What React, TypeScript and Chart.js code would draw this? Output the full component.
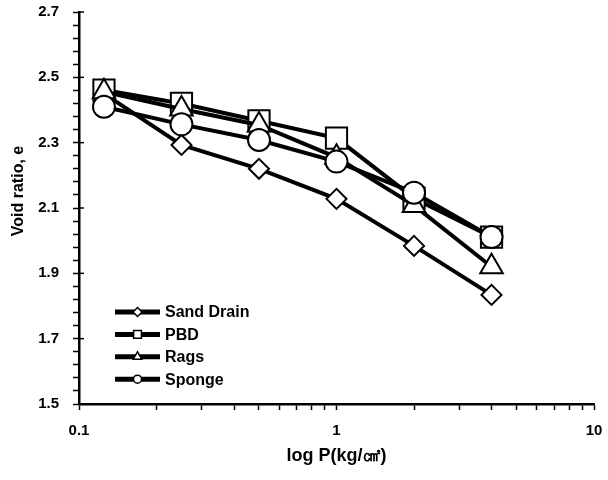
import React, { useEffect, useRef } from 'react';
import { Chart, registerables } from 'chart.js';
import { drawPoint } from 'chart.js/helpers';

Chart.register(...registerables);

// ---- data ----
const pressures = [0.125, 0.25, 0.5, 1, 2, 4];
const sandDrain = [2.45, 2.293, 2.22, 2.128, 1.984, 1.834];
const pbd = [2.461, 2.42, 2.367, 2.314, 2.13, 2.011];
const rags = [2.456, 2.403, 2.354, 2.255, 2.108, 1.92];
const sponge = [2.41, 2.356, 2.308, 2.242, 2.147, 2.011];
const seriesNames = ['Sand Drain', 'PBD', 'Rags', 'Sponge'];
const xLabelTicks = [0.1, 1, 10];
const yLabelTicks = [1.5, 1.7, 1.9, 2.1, 2.3, 2.5, 2.7];
const yMinorStep = 0.04;
const yTitleText = 'Void ratio, e';
const xTitleText = 'log P(kg/㎠)';

const FONT = '"Liberation Sans", Arial, Helvetica, sans-serif';

const legendRadius: Record<string, number> = { rectRot: 4.5, rect: 5.5, triangle: 5, circle: 4 };

const isYLabel = (n: number) => yLabelTicks.some((t) => Math.abs(t - n) < 1e-6);

const innerLegend = {
  id: 'innerLegend',
  afterDraw(chart: any) {
    const ctx = chart.ctx;
    const area = chart.chartArea;
    const x0 = area.left + 36;
    const x1 = area.left + 81;
    const rowY0 = area.bottom - 92;
    const gap = 22.4;
    chart.data.datasets.forEach((ds: any, i: number) => {
      const y = rowY0 + i * gap;
      ctx.save();
      ctx.strokeStyle = '#000';
      ctx.lineWidth = 5;
      ctx.beginPath();
      ctx.moveTo(x0, y);
      ctx.lineTo(x1, y);
      ctx.stroke();
      ctx.fillStyle = '#fff';
      ctx.strokeStyle = '#000';
      ctx.lineWidth = 1.5;
      drawPoint(ctx, { pointStyle: ds.pointStyle, radius: legendRadius[ds.pointStyle], rotation: 0, borderWidth: 1.5 }, (x0 + x1) / 2, y);
      ctx.fillStyle = '#000';
      ctx.font = 'bold 16px ' + FONT;
      ctx.textAlign = 'left';
      ctx.textBaseline = 'middle';
      ctx.fillText(ds.label, x1 + 5, y + 1);
      ctx.restore();
    });
  },
};

const yTitlePlugin = {
  id: 'yTitlePlugin',
  afterDraw(chart: any) {
    const ctx = chart.ctx;
    ctx.save();
    ctx.translate(19, 191);
    ctx.rotate(-Math.PI / 2);
    ctx.fillStyle = '#000';
    ctx.font = 'bold 16px ' + FONT;
    ctx.textAlign = 'center';
    ctx.textBaseline = 'middle';
    ctx.fillText(yTitleText, 0, 0);
    ctx.restore();
  },
};

const majorInnerTicks = {
  id: 'majorInnerTicks',
  afterDraw(chart: any) {
    const ctx = chart.ctx;
    const ys = chart.scales.y;
    const area = chart.chartArea;
    ctx.save();
    ctx.strokeStyle = '#000';
    ctx.lineWidth = 1.5;
    ys.ticks.forEach((t: any) => {
      if (isYLabel(t.value)) {
        const py = ys.getPixelForValue(t.value);
        ctx.beginPath();
        ctx.moveTo(area.left, py);
        ctx.lineTo(area.left + 5, py);
        ctx.stroke();
      }
    });
    ctx.restore();
  },
};

export default function App() {
  const ref = useRef<HTMLCanvasElement | null>(null);

  useEffect(() => {
    if (!ref.current) return;
    const mk = (label: string, vals: number[], style: string, radius: number, order: number) => ({
      label,
      data: pressures.map((p, i) => ({ x: p, y: vals[i] })),
      borderColor: '#000',
      backgroundColor: '#fff',
      borderWidth: 4,
      pointStyle: style,
      pointRadius: radius,
      pointBorderWidth: 2,
      pointBorderColor: '#000',
      pointBackgroundColor: '#fff',
      tension: 0,
      order,
    });
    const chart = new Chart(ref.current, {
      type: 'line',
      data: {
        datasets: [
          mk(seriesNames[0], sandDrain, 'rectRot', 10, 4),
          mk(seriesNames[1], pbd, 'rect', 15, 3),
          mk(seriesNames[2], rags, 'triangle', 13, 2),
          mk(seriesNames[3], sponge, 'circle', 11, 1),
        ] as any,
      },
      options: {
        animation: false,
        responsive: false,
        devicePixelRatio: 1,
        layout: { autoPadding: false, padding: { top: 12, right: 14, left: 0, bottom: 0 } },
        plugins: { legend: { display: false }, tooltip: { enabled: false } },
        scales: {
          x: {
            type: 'logarithmic',
            min: 0.1,
            max: 10,
            afterBuildTicks: (s: any) => {
              const t: any[] = [];
              for (const d of [0.1, 1]) for (let m = 1; m < 10; m++) t.push({ value: +(m * d).toPrecision(3) });
              t.push({ value: 10 });
              s.ticks = t;
            },
            afterFit: (s: any) => {
              s.height = 76;
              s.paddingLeft = 0;
              s.paddingRight = 0;
            },
            ticks: {
              autoSkip: false,
              maxRotation: 0,
              padding: 12,
              color: '#000',
              font: { family: FONT, size: 15, weight: 'bold' },
              callback: (v: any) => {
                const n = Number(v);
                return xLabelTicks.some((t) => Math.abs(t - n) < 1e-9) ? String(n) : '';
              },
            },
            grid: { drawOnChartArea: false, drawTicks: true, tickLength: 6, tickColor: '#000', tickWidth: 1.5 },
            border: { display: true, color: '#000', width: 2.5 },
            title: {
              display: true,
              text: xTitleText,
              color: '#000',
              font: { family: FONT, size: 18, weight: 'bold' },
              padding: { top: 0, bottom: 13 },
            },
          },
          y: {
            min: 1.5,
            max: 2.7,
            afterBuildTicks: (s: any) => {
              const t: any[] = [];
              const n = Math.round((2.7 - 1.5) / yMinorStep);
              for (let k = 0; k <= n; k++) t.push({ value: +(1.5 + k * yMinorStep).toFixed(4) });
              s.ticks = t;
            },
            afterFit: (s: any) => {
              s.width = 79;
              s.paddingTop = 0;
              s.paddingBottom = 0;
            },
            ticks: {
              autoSkip: false,
              padding: 14,
              color: '#000',
              font: { family: FONT, size: 15, weight: 'bold' },
              callback: (v: any) => {
                const n = Number(v);
                return isYLabel(n) ? n.toFixed(1) : '';
              },
            },
            grid: { drawOnChartArea: false, drawTicks: true, tickLength: 6, tickColor: '#000', tickWidth: 1.5 },
            border: { display: true, color: '#000', width: 2.5 },
          },
        },
      } as any,
      plugins: [innerLegend, yTitlePlugin, majorInnerTicks],
    });
    return () => chart.destroy();
  }, []);

  return (
    <div style={{ position: 'fixed', left: 0, top: 0, width: 608, height: 480, background: '#fff' }}>
      <canvas ref={ref} width={608} height={480} style={{ width: 608, height: 480 }} />
    </div>
  );
}
